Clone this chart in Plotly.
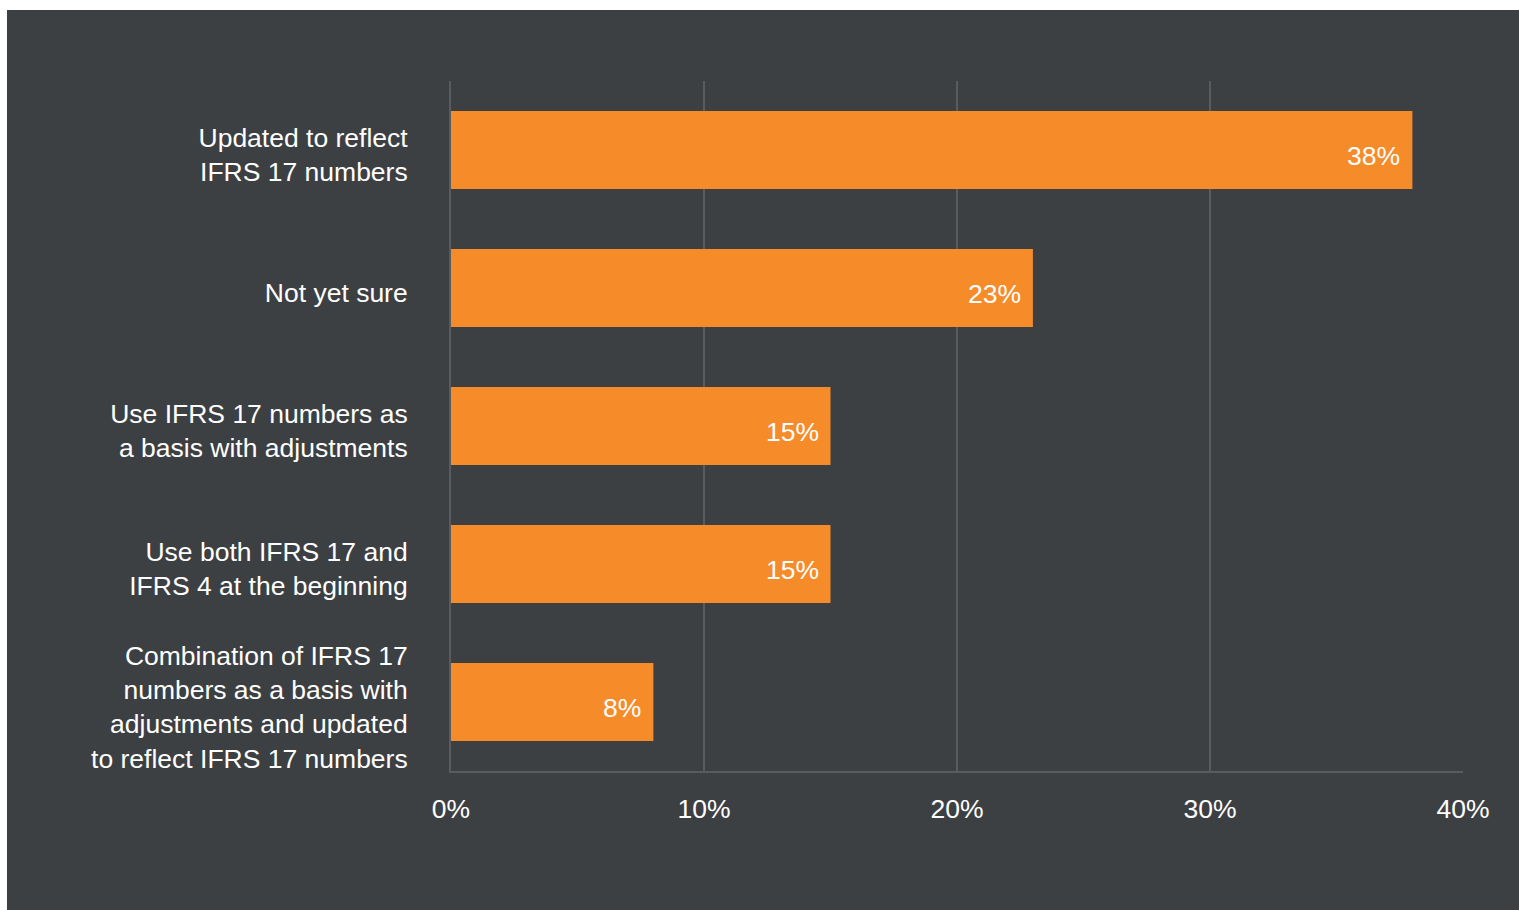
import plotly.graph_objects as go

categories = [
    "Updated to reflect<br>IFRS 17 numbers",
    "Not yet sure",
    "Use IFRS 17 numbers as<br>a basis with adjustments",
    "Use both IFRS 17 and<br>IFRS 4 at the beginning",
    "Combination of IFRS 17<br>numbers as a basis with<br>adjustments and updated<br>to reflect IFRS 17 numbers",
]
values = [38, 23, 15, 15, 8]
labels = ["38%", "23%", "15%", "15%", "8%"]
x_ticks = [0, 10, 20, 30, 40]
x_tick_labels = ["0%", "10%", "20%", "30%", "40%"]

BG = "#3d4043"
GRID = "#595b5e"
BAR = "#f68b2a"
FONT = "Liberation Sans, Arial, sans-serif"
FS = 26.5

W, H = 1519, 910
L, R, T, B = 451, 56, 81, 139
pw, ph = W - L - R, H - T - B

fig = go.Figure(go.Bar(
    x=values, y=categories, orientation="h",
    marker=dict(color=BAR, line=dict(width=0)),
    width=0.566, hoverinfo="skip",
))

for v, c, t in zip(values, categories, labels):
    fig.add_annotation(x=v, y=c, text=t, showarrow=False, xanchor="right",
                       xshift=-10, yshift=-6,
                       font=dict(family=FONT, size=FS, color="white"))

fig.add_shape(type="rect", xref="paper", yref="paper", layer="below",
              x0=(7 - L) / pw, x1=(W - L) / pw,
              y0=-(H - T - ph) / ph - 0.01, y1=(ph + T - 10) / ph,
              fillcolor=BG, line=dict(width=0))

fig.update_layout(
    width=W, height=H,
    margin=dict(l=L, r=R, t=T, b=B, pad=0),
    paper_bgcolor="white", plot_bgcolor=BG,
    showlegend=False, bargap=0.434,
    font=dict(family=FONT, size=FS, color="white"),
    xaxis=dict(range=[0, 40], tickvals=x_ticks, ticktext=x_tick_labels,
               showgrid=True, gridcolor=GRID, gridwidth=2, zeroline=False,
               showline=True, linecolor=GRID, linewidth=2,
               ticks="outside", ticklen=13, tickcolor="rgba(0,0,0,0)",
               tickfont=dict(size=FS, color="white"), fixedrange=True),
    yaxis=dict(categoryorder="array", categoryarray=categories,
               autorange="reversed", showgrid=False, zeroline=False,
               showline=True, linecolor=GRID, linewidth=2,
               ticks="outside", ticklen=36, tickcolor="rgba(0,0,0,0)",
               ticklabelshift=-5,
               tickfont=dict(size=FS, color="white"), fixedrange=True),
)

fig.write_html("out.html", config={"displayModeBar": False})
